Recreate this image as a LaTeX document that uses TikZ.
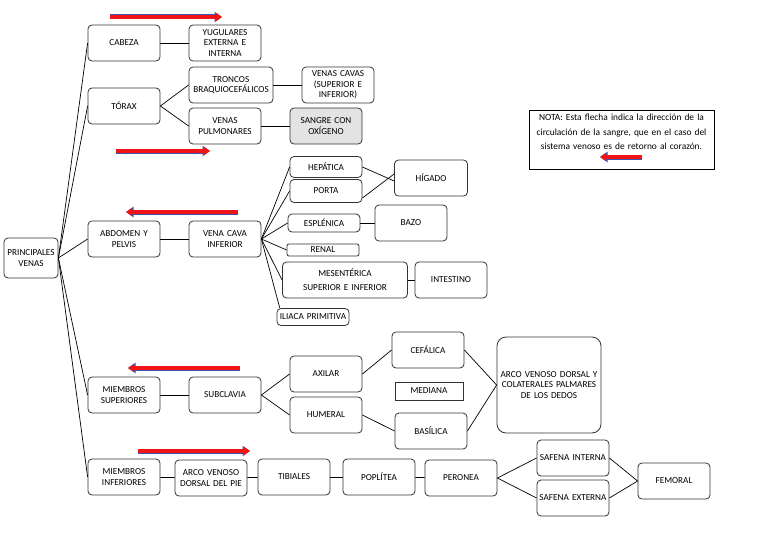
\documentclass[tikz,border=0pt]{standalone}
\usepackage{fontspec}
\setmainfont{Carlito}
\usetikzlibrary{arrows.meta,positioning}
\definecolor{edge}{HTML}{333333}
\definecolor{shade}{HTML}{E3E3E3}
\definecolor{flred}{HTML}{F01414}
\definecolor{flblue}{HTML}{3B56B0}

\begin{document}
\begin{tikzpicture}[x=1pt,y=-1pt,
box/.style={draw=edge,line width=0.8pt,rounded corners=4pt,align=center,
  minimum height=36pt,text width=68pt,inner sep=2pt,
  font=\fontsize{9.2}{10.5}\selectfont},
lin/.style={draw=black,line width=0.7pt},
flecha/.style={draw=flred,line width=4.2pt,-{Triangle[length=6pt,width=8pt]},
  preaction={draw=flblue,line width=5pt,-{Triangle[length=7.5pt,width=10pt]}}}]
\path[fill=white] (0,0) rectangle (768,543);
% raiz y ramas
\node[box,text width=50pt,minimum height=40pt] (raiz) at (31,258) {PRINCIPALES\\VENAS};
\node[box] (cabeza) at (124,43) {CABEZA};
\node[box] (yugul) at (225,43) {YUGULARES\\EXTERNA E\\INTERNA};
\node[box] (torax) at (124,106) {TÓRAX};
\node[box,text width=80pt] (tronc) at (231,85) {TRONCOS\\BRAQUIOCEFÁLICOS};
\node[box] (cavas) at (338,85) {VENAS CAVAS\\(SUPERIOR E\\INFERIOR)};
\node[box] (pulmo) at (225,126) {VENAS\\PULMONARES};
\node[box,fill=shade] (sangre) at (326,126) {SANGRE CON\\OXÍGENO};
% abdomen
\node[box] (abdo) at (124,239) {ABDOMEN Y\\PELVIS};
\node[box] (vcinf) at (225,239) {VENA CAVA\\INFERIOR};
\node[box,minimum height=21pt] (hepa) at (326,167) {HEPÁTICA};
\node[box,minimum height=23pt] (porta) at (326,191) {PORTA};
\node[box,text width=69pt] (higa) at (431,178) {HÍGADO};
\node[box,minimum height=18pt] (esple) at (324,223) {ESPLÉNICA};
\node[box] (bazo) at (411,223) {BAZO};
\node[box,minimum height=12pt,inner ysep=0.5pt,rounded corners=2pt] (renal) at (323,250) {RENAL};
\node[box,text width=121pt] (mesen) at (345,280) {MESENTÉRICA\\[3.5pt]SUPERIOR E INFERIOR};
\node[box] (intes) at (451,280) {INTESTINO};
\node[box,minimum height=17pt,inner ysep=1pt] (iliac) at (313,317) {ILIACA PRIMITIVA};
% miembros superiores
\node[box] (msup) at (124,395) {MIEMBROS\\SUPERIORES};
\node[box] (subcl) at (225,395) {SUBCLAVIA};
\node[box] (axil) at (326,374) {AXILAR};
\node[box] (humer) at (326,415) {HUMERAL};
\node[box] (cefal) at (428,350) {CEFÁLICA};
\node[box,rounded corners=0pt,text width=64pt,minimum height=18pt] (media) at (429,391) {MEDIANA};
\node[box] (basil) at (431,431) {BASÍLICA};
\node[box,text width=100pt,minimum height=96pt,rounded corners=9pt] (arcom) at (549,385)
  {ARCO VENOSO DORSAL Y\\COLATERALES PALMARES\\DE LOS DEDOS};
% miembros inferiores
\node[box] (minf) at (124,477) {MIEMBROS\\INFERIORES};
\node[box] (arcop) at (211,478) {ARCO VENOSO\\DORSAL DEL PIE};
\node[box] (tibia) at (294,477) {TIBIALES};
\node[box] (popli) at (379,477) {POPLÍTEA};
\node[box] (peron) at (461,478) {PERONEA};
\node[box] (safint) at (573,458) {SAFENA INTERNA};
\node[box] (safext) at (573,498) {SAFENA EXTERNA};
\node[box] (femor) at (674,481) {FEMORAL};
% nota
\node[draw=black,line width=0.8pt,anchor=north,text width=177pt,inner sep=4pt,
  align=center,text depth=44pt,font=\fontsize{9.4}{14.5}\selectfont] (nota) at (621.5,110)
  {NOTA: Esta flecha indica la dirección de la\\circulación de la sangre, que en el caso del\\sistema venoso es de retorno al corazón.};
% conectores
\draw[lin] (raiz.east)--(cabeza.west);\draw[lin] (raiz.east)--(torax.west);
\draw[lin] (raiz.east)--(abdo.west);\draw[lin] (raiz.east)--(msup.west);
\draw[lin] (raiz.east)--(minf.west);
\draw[lin] (cabeza)--(yugul);\draw[lin] (torax.east)--(tronc.west);
\draw[lin] (torax.east)--(pulmo.west);\draw[lin] (tronc)--(cavas);
\draw[lin] (pulmo)--(sangre);\draw[lin] (abdo)--(vcinf);
\draw[lin] (vcinf.east)--(hepa.west);\draw[lin] (vcinf.east)--(porta.west);
\draw[lin] (vcinf.east)--(esple.west);\draw[lin] (vcinf.east)--(renal.west);
\draw[lin] (vcinf.east)--(mesen.west);\draw[lin] (vcinf.east)--(iliac.165);
\draw[lin] (hepa.east)--([yshift=-3pt]higa.west);\draw[lin] ([yshift=-7pt]porta.east)--([yshift=4pt]higa.west);
\draw[lin] (esple)--(bazo);\draw[lin] (mesen)--(intes);
\draw[lin] (msup)--(subcl);\draw[lin] (subcl.east)--(axil.west);
\draw[lin] (subcl.east)--(humer.west);\draw[lin] (axil.east)--(cefal.west);
\draw[lin] (humer.east)--(basil.west);\draw[lin] (cefal.east)--(arcom.west);
\draw[lin] (basil.east)--(arcom.west);
\draw[lin] (minf)--(arcop);\draw[lin] (arcop)--(tibia);
\draw[lin] (tibia)--(popli);\draw[lin] (popli)--(peron);
\draw[lin] (peron.east)--(safint.west);\draw[lin] (peron.east)--(safext.west);
\draw[lin] (safint.east)--(femor.west);\draw[lin] (safext.east)--(femor.west);
% flechas de sentido
\draw[flecha] (110,17)--(222,17);
\draw[flecha] (116,151)--(210,151);
\draw[flecha] (238,212)--(126,212);
\draw[flecha] (240,368)--(128,368);
\draw[flecha] (138,451)--(250,451);
\draw[flecha] (642,157)--(600,157);
\end{tikzpicture}
\end{document}
